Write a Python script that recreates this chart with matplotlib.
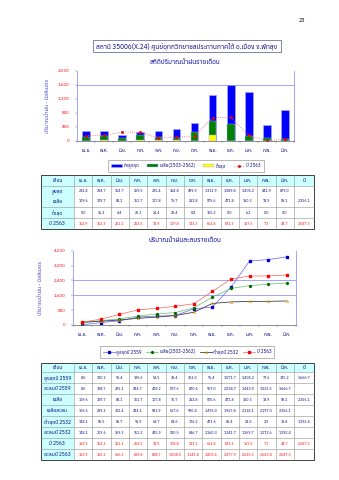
import numpy as np
import matplotlib
matplotlib.use('Agg')
import matplotlib.pyplot as plt
from matplotlib import font_manager
from matplotlib.ft2font import FT2Font
from matplotlib.patches import Rectangle

# pick a font that has Thai glyphs
thai_fonts = []
for f in font_manager.fontManager.ttflist:
    try:
        if 0x0E01 in FT2Font(f.fname).get_charmap():
            thai_fonts.append(f.name)
    except Exception:
        pass
plt.rcParams['font.family'] = sorted(set(thai_fonts))[:1] + ['DejaVu Sans']

# data
months = ['เม.ย.', 'พ.ค.', 'มิ.ย.', 'ก.ค.', 'ส.ค.', 'ก.ย.', 'ต.ค.', 'พ.ย.', 'ธ.ค.', 'ม.ค.', 'ก.พ.', 'มี.ค.']

max_all = [283.4, 294.7, 164.7, 259.5, 285.4, 354.8, 499.9, 1311.9, 1589.8, 1405.2, 441.9, 879.0]
mean_all = [109.6, 129.7, 83.1, 161.7, 107.8, 75.7, 252.8, 575.6, 471.8, 150.3, 78.9, 59.1]
min_all = [0.0, 35.2, 4.4, 26.1, 21.4, 29.4, 0.8, 165.2, 0.0, 6.1, 0.0, 0.0]
y2563 = [152.9, 162.3, 251.1, 253.5, 78.9, 109.8, 133.3, 663.8, 672.3, 157.6, 7.3, 44.7]

max2559 = [8.5, 120.2, 96.4, 199.6, 53.5, 29.4, 363.0, 96.4, 1071.7, 1405.2, 77.6, 145.2]
cum2559 = [8.5, 128.7, 225.1, 424.7, 478.2, 507.6, 870.6, 967.0, 2038.7, 3443.9, 3521.5, 3666.7]
cum_mean = [109.6, 239.3, 322.4, 484.1, 591.9, 667.6, 920.4, 1496.0, 1967.8, 2118.1, 2197.0, 2256.1]
min2532 = [148.1, 55.5, 65.7, 91.9, 64.7, 84.6, 176.2, 473.6, 81.4, 28.0, 2.9, 19.8]
cum2532 = [148.1, 203.6, 269.3, 361.2, 425.9, 510.5, 686.7, 1160.3, 1241.7, 1269.7, 1272.6, 1292.4]
cum2563 = [152.9, 315.2, 566.3, 819.8, 898.7, 1008.5, 1141.8, 1805.6, 2477.9, 2635.5, 2642.8, 2687.5]

total_mean = 2256.1
total_2563 = 2687.5
total_2559 = 3666.7
total_2532 = 1292.4

W, H = 339, 480
navy = '#000080'
lav = '#8080FF'


def box(x0, y0, x1, y1):
    return [x0 / W, 1 - y1 / H, (x1 - x0) / W, (y1 - y0) / H]


def fmt(v):
    return '{:,.1f}'.format(v)


fig = plt.figure(figsize=(W / 100, H / 100), dpi=100)
page = fig.add_axes([0, 0, 1, 1])
page.set_xlim(0, W)
page.set_ylim(H, 0)
page.axis('off')

page.text(302, 20, '23', fontsize=4, ha='center', va='center')
page.add_patch(Rectangle((93, 39.5), 188, 12.5, fill=False, ec='#7070A0', lw=0.6))
page.text(187, 45.8, 'สถานี 35006(X.24) ศูนย์อุทกวิทยาชลประทานภาคใต้ อ.เมือง จ.พัทลุง',
          fontsize=4.7, fontweight='bold', color=navy, ha='center', va='center')
page.text(185, 62, 'สถิติปริมาณน้ำฝนรายเดือน', fontsize=4.7, fontweight='bold',
          color='#0000A0', ha='center', va='center')
page.text(185, 240, 'ปริมาณน้ำฝนสะสมรายเดือน', fontsize=4.7, fontweight='bold',
          color='#0000A0', ha='center', va='center')

x = np.arange(len(months))

# ---- monthly chart
ax1 = fig.add_axes(box(77, 70.7, 294, 141))
ax1.axhline(1600, color=lav, lw=0.5, zorder=0)
b1 = ax1.bar(x, max_all, width=0.42, color='#0000FF', edgecolor='#B0B0FF', lw=0.4)
b2 = ax1.bar(x, mean_all, width=0.42, color='#008000', edgecolor='#B0B0FF', lw=0.3)
b3 = ax1.bar(x, min_all, width=0.42, color='#FFFF00', edgecolor='#B0B0FF', lw=0.3)
l1, = ax1.plot(x, y2563, color='#FF6060', ls=':', lw=0.6, marker='o', ms=1.8,
               mfc='#FF0000', mec='#CC0000', mew=0.3)
ax1.set_xlim(-0.5, 11.5)
ax1.set_ylim(0, 2000)
ax1.set_yticks(np.arange(0, 2001, 400))
ax1.set_yticklabels(['{:,}'.format(v) for v in range(0, 2001, 400)])
ax1.set_ylabel('ปริมาณน้ำฝน - มิลลิเมตร', fontsize=3.9, color='#4040C0', labelpad=6)

# ---- cumulative chart
ax2 = fig.add_axes(box(73, 250.7, 296, 325))
for g in (1600, 2400):
    ax2.axhline(g, color=lav, lw=0.5, zorder=0)
m1, = ax2.plot(x, cum2559, color='#6060FF', lw=0.5, marker='s', ms=1.6, mfc='#0000CC', mec='#0000CC')
m2, = ax2.plot(x, cum_mean, color='#60C060', lw=0.5, marker='D', ms=1.2, mfc='#006600', mec='#006600')
m3, = ax2.plot(x, cum2532, color='#404040', lw=0.6, marker='^', ms=1.8, mfc='none', mec='#E0A800', mew=0.4)
m4, = ax2.plot(x, cum2563, color='#FF6060', lw=0.5, marker='s', ms=1.5, mfc='#FF0000', mec='#FF0000')
ax2.set_xlim(-0.5, 11.5)
ax2.set_ylim(0, 4000)
ax2.set_yticks(np.arange(0, 4001, 800))
ax2.set_yticklabels(['{:,}'.format(v) for v in range(0, 4001, 800)])
ax2.set_ylabel('ปริมาณน้ำฝน - มิลลิเมตร', fontsize=3.9, color='#4040C0', labelpad=8)

for ax in (ax1, ax2):
    ax.set_xticks(x)
    ax.set_xticklabels(months)
    ax.set_xticks(np.arange(-0.5, 12, 1), minor=True)
    ax.tick_params(axis='x', which='major', length=0, labelsize=3.4, labelcolor=navy, pad=5)
    ax.tick_params(axis='x', which='minor', length=1.5, width=0.3, color='#606060')
    ax.tick_params(axis='y', length=1.2, width=0.3, color='#606060', labelsize=3.2, labelcolor='#FF0000', pad=4)
    ax.spines['top'].set_visible(False)
    for s in ('left', 'right', 'bottom'):
        ax.spines[s].set_color(lav)
        ax.spines[s].set_linewidth(0.5)
    ax.spines['bottom'].set_color('#606060')
    ax.set_facecolor('none')

leg1 = fig.legend([b1, b2, b3, l1], ['ค่าสูงสุด', 'เฉลี่ย(2503-2562)', 'ต่ำสุด', 'ปี 2563'],
                  loc='center', bbox_to_anchor=(186 / W, 1 - 166 / H), ncol=4, fontsize=3.3,
                  frameon=True, fancybox=False, edgecolor='#808080', handlelength=2.4,
                  handleheight=0.7, columnspacing=1.6, handletextpad=0.4, borderpad=0.6)
leg1.get_frame().set_linewidth(0.5)
leg2 = fig.legend([m1, m2, m3, m4], ['สูงสุดปี 2559', 'เฉลี่ย(2503-2562)', 'ต่ำสุดปี 2532', 'ปี 2563'],
                  loc='center', bbox_to_anchor=(187 / W, 1 - 352 / H), ncol=4, fontsize=3.3,
                  frameon=True, fancybox=False, edgecolor='#808080', handlelength=2.6,
                  columnspacing=1.0, handletextpad=0.3, borderpad=0.6)
leg2.get_frame().set_linewidth(0.5)
for lg in (leg1, leg2):
    for t in lg.get_texts():
        t.set_color(navy)

# ---- tables
col_x = [40.7, 74.0] + list(74.0 + 18.33 * np.arange(1, 13)) + [314.3]
col_c = [(col_x[i] + col_x[i + 1]) / 2 for i in range(len(col_x) - 1)]
cyan = '#CCFFFF'


def draw_grid(row_y):
    top, bottom = row_y[0], row_y[-1]
    page.add_patch(Rectangle((col_x[0], top), col_x[-1] - col_x[0], row_y[1] - top, fc=cyan, ec='none'))
    page.add_patch(Rectangle((col_x[0], top), col_x[1] - col_x[0], bottom - top, fc=cyan, ec='none'))
    for yy in row_y[1:-1]:
        page.plot([col_x[0], col_x[-1]], [yy, yy], color='#909090', lw=0.4)
    for xx in col_x[1:-1]:
        page.plot([xx, xx], [top, bottom], color='#909090', lw=0.4)
    page.add_patch(Rectangle((col_x[0], top), col_x[-1] - col_x[0], bottom - top, fill=False, ec='#404040', lw=0.7))
    hy = (row_y[0] + row_y[1]) / 2
    page.text(col_c[0], hy, 'เดือน', fontsize=3.7, fontweight='bold', color=navy, ha='center', va='center')
    for i, m in enumerate(months):
        page.text(col_c[i + 1], hy, m, fontsize=3.4, fontweight='bold', color=navy, ha='center', va='center')
    page.text(col_c[13], hy, 'ปี', fontsize=3.7, fontweight='bold', color=navy, ha='center', va='center')


def draw_row(yc, label, vals, color, total=None):
    page.text(col_c[0], yc, label, fontsize=3.6, fontweight='bold', color=navy, ha='center', va='center')
    for i, v in enumerate(vals):
        page.text(col_c[i + 1], yc, fmt(v), fontsize=2.6, color=color, ha='center', va='center')
    if total is not None:
        page.text(col_c[13], yc, fmt(total), fontsize=2.6, color=color, ha='center', va='center')


t1_rows = [175.3, 185.7, 207.3, 218.3, 229.0]
draw_grid(t1_rows)
draw_row(191.5, 'สูงสุด', max_all, navy)
draw_row(201.5, 'เฉลี่ย', mean_all, navy, total_mean)
draw_row(212.8, 'ต่ำสุด', min_all, navy)
draw_row(223.6, 'ปี 2563', y2563, '#FF0000', total_2563)

t2_rows = [363.3, 372.3] + list(372.3 + 10.96 * np.arange(1, 9))
draw_grid(t2_rows)
t2_data = [
    ('สูงสุดปี 2559', max2559, navy, total_2559),
    ('สะสมปี 2559', cum2559, navy, None),
    ('เฉลี่ย', mean_all, navy, total_mean),
    ('เฉลี่ยสะสม', cum_mean, navy, None),
    ('ต่ำสุดปี 2532', min2532, navy, total_2532),
    ('สะสมปี 2532', cum2532, navy, None),
    ('ปี 2563', y2563, '#FF0000', total_2563),
    ('สะสมปี 2563', cum2563, '#FF0000', None),
]
for k, (lab, vals, c, tot) in enumerate(t2_data):
    draw_row((t2_rows[k + 1] + t2_rows[k + 2]) / 2, lab, vals, c, tot)

fig.savefig('out.png', dpi=100, facecolor='white')
